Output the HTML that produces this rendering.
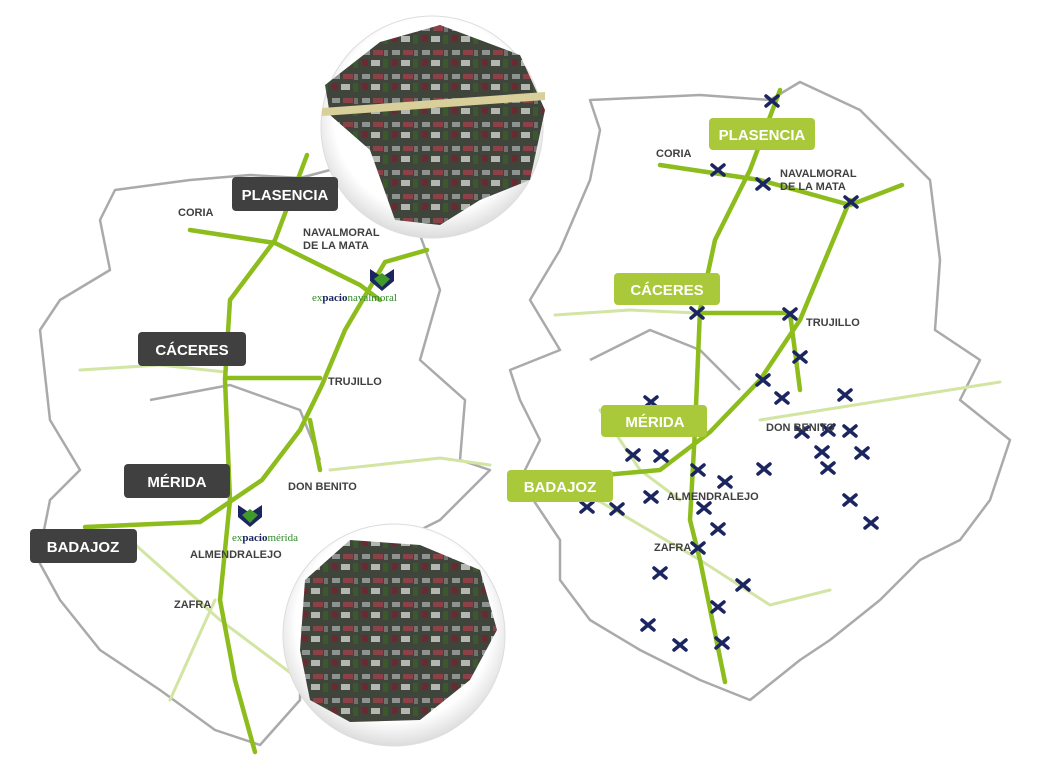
<!DOCTYPE html>
<html><head><meta charset="utf-8"><style>
body{margin:0;background:#fff;}
svg{display:block;font-family:"Liberation Sans",sans-serif;}
.lbl{font-size:11px;font-weight:bold;fill:#404040;}
.big{font-size:15px;font-weight:bold;fill:#fff;}
</style></head><body>
<svg width="1045" height="783" viewBox="0 0 1045 783" xmlns="http://www.w3.org/2000/svg">
<defs>
<pattern id="city" width="30" height="24" patternUnits="userSpaceOnUse">
<rect width="30" height="24" fill="#40453c"/>
<rect x="2" y="2" width="8" height="5" fill="#8e9290"/>
<rect x="13" y="2" width="10" height="5" fill="#8a4148"/>
<rect x="2" y="11" width="6" height="7" fill="#6b2a31"/>
<rect x="11" y="12" width="9" height="6" fill="#b4b6b0"/>
<rect x="23" y="11" width="5" height="9" fill="#3a5a2c"/>
<rect x="24" y="2" width="4" height="6" fill="#70736d"/>
</pattern>
<radialGradient id="cg" cx="50%" cy="45%" r="55%">
<stop offset="80%" stop-color="#fff"/><stop offset="100%" stop-color="#dcdcdc"/>
</radialGradient>
<g id="x"><path d="M-6,-5 L6,5 M6,-5 L-6,5" stroke="#1b2560" stroke-width="3.5" stroke-linecap="round"/></g>
</defs>
<g fill="none" stroke="#aaa" stroke-width="2.5" stroke-linejoin="round">
<path d="M115,190 L190,180 L250,175 L300,178 L330,170 L420,235 L440,290 L420,360 L465,400 L460,460 L490,470 L440,520 L400,540 L300,640 L300,700 L260,745 L215,730 L160,690 L100,650 L60,600 L38,560 L50,500 L80,470 L50,420 L40,330 L60,300 L110,270 L100,220 Z"/>
<path d="M590,100 L700,95 L770,100 L800,82 L860,110 L900,150 L930,180 L940,260 L935,330 L980,360 L960,400 L1010,440 L990,500 L960,540 L920,560 L880,600 L830,640 L800,660 L750,700 L700,680 L640,650 L590,620 L560,580 L560,540 L520,480 L540,440 L520,400 L510,370 L560,350 L530,300 L560,250 L590,180 L600,130 Z"/>
<path d="M150,400 L230,385 L300,410 L320,460" />
<path d="M590,360 L650,330 L700,350 L740,390"/>
</g>
<g fill="none" stroke="#d2e5a2" stroke-width="3" stroke-linecap="round">
<path d="M80,370 L160,365 L225,372"/>
<path d="M330,470 L440,458 L490,465"/>
<path d="M130,540 L220,620 L300,680"/>
<path d="M170,700 L215,600"/>
<path d="M555,315 L630,310 L697,313"/>
<path d="M760,420 L1000,382"/>
<path d="M580,490 L700,560 L770,605 L830,590"/>
<path d="M600,410 L640,470 L680,500"/>
</g>
<g fill="none" stroke="#8cbd1c" stroke-width="4.5" stroke-linecap="round" stroke-linejoin="round">
<path d="M307,155 L275,240 L230,300 L225,380 L230,500 L220,600 L235,680 L255,752"/>
<path d="M190,230 L275,243 L360,285 L380,300"/>
<path d="M427,250 L385,262 L345,330 L322,385 L300,430 L262,480 L200,522 L85,527"/>
<path d="M225,378 L320,378"/>
<path d="M310,420 L320,470"/>
<path d="M780,90 L750,170 L715,240 L700,310 L695,430 L690,520 L700,560 L725,682"/>
<path d="M660,165 L760,180 L850,205 L902,185"/>
<path d="M850,200 L800,320 L760,380 L710,432 L660,470 L548,480"/>
<path d="M697,313 L790,313 L800,390"/>
</g>
<g>
<use href="#x" x="772" y="101"/><use href="#x" x="718" y="170"/><use href="#x" x="763" y="184"/><use href="#x" x="851" y="202"/>
<use href="#x" x="697" y="313"/><use href="#x" x="790" y="314"/><use href="#x" x="800" y="357"/><use href="#x" x="763" y="380"/>
<use href="#x" x="782" y="398"/><use href="#x" x="845" y="395"/><use href="#x" x="802" y="432"/><use href="#x" x="828" y="430"/>
<use href="#x" x="850" y="431"/><use href="#x" x="822" y="452"/><use href="#x" x="862" y="453"/><use href="#x" x="828" y="468"/>
<use href="#x" x="764" y="469"/><use href="#x" x="698" y="470"/><use href="#x" x="633" y="455"/><use href="#x" x="661" y="456"/>
<use href="#x" x="725" y="482"/><use href="#x" x="651" y="497"/><use href="#x" x="587" y="507"/><use href="#x" x="617" y="509"/>
<use href="#x" x="704" y="508"/><use href="#x" x="718" y="529"/><use href="#x" x="850" y="500"/><use href="#x" x="871" y="523"/>
<use href="#x" x="698" y="548"/><use href="#x" x="660" y="573"/><use href="#x" x="743" y="585"/><use href="#x" x="718" y="607"/>
<use href="#x" x="648" y="625"/><use href="#x" x="680" y="645"/><use href="#x" x="722" y="643"/><use href="#x" x="651" y="402"/>
</g>
<circle cx="432" cy="127" r="111" fill="url(#cg)" stroke="#ddd"/>
<path d="M325,85 L380,42 L440,25 L520,55 L545,110 L530,180 L480,200 L440,225 L395,220 L370,150 L330,115 Z" fill="url(#city)"/>
<path d="M322,108 L545,92 L545,100 L322,116 Z" fill="#d8cf9a"/>
<circle cx="394" cy="635" r="111" fill="url(#cg)" stroke="#ddd"/>
<path d="M305,580 L350,540 L420,545 L480,570 L497,630 L470,680 L420,720 L350,722 L310,700 L300,650 Z" fill="url(#city)"/>
<g>
<rect x="232" y="177" width="106" height="34" rx="4" fill="#404040"/><text x="285" y="200" class="big" text-anchor="middle">PLASENCIA</text>
<rect x="138" y="332" width="108" height="34" rx="4" fill="#404040"/><text x="192" y="355" class="big" text-anchor="middle">CÁCERES</text>
<rect x="124" y="464" width="106" height="34" rx="4" fill="#404040"/><text x="177" y="487" class="big" text-anchor="middle">MÉRIDA</text>
<rect x="30" y="529" width="107" height="34" rx="4" fill="#404040"/><text x="83" y="552" class="big" text-anchor="middle">BADAJOZ</text>
<rect x="709" y="118" width="106" height="32" rx="4" fill="#a9c93a"/><text x="762" y="140" class="big" text-anchor="middle">PLASENCIA</text>
<rect x="614" y="273" width="106" height="32" rx="4" fill="#a9c93a"/><text x="667" y="295" class="big" text-anchor="middle">CÁCERES</text>
<rect x="601" y="405" width="106" height="32" rx="4" fill="#a9c93a"/><text x="655" y="427" class="big" text-anchor="middle">MÉRIDA</text>
<rect x="507" y="470" width="106" height="32" rx="4" fill="#a9c93a"/><text x="560" y="492" class="big" text-anchor="middle">BADAJOZ</text>
</g>
<g class="lbl">
<text x="178" y="216" class="lbl">CORIA</text>
<text x="303" y="236" class="lbl">NAVALMORAL</text><text x="303" y="249" class="lbl">DE LA MATA</text>
<text x="328" y="385" class="lbl">TRUJILLO</text>
<text x="288" y="490" class="lbl">DON BENITO</text>
<text x="190" y="558" class="lbl">ALMENDRALEJO</text>
<text x="174" y="608" class="lbl">ZAFRA</text>
<text x="656" y="157" class="lbl">CORIA</text>
<text x="780" y="177" class="lbl">NAVALMORAL</text><text x="780" y="190" class="lbl">DE LA MATA</text>
<text x="806" y="326" class="lbl">TRUJILLO</text>
<text x="766" y="431" class="lbl">DON BENITO</text>
<text x="667" y="500" class="lbl">ALMENDRALEJO</text>
<text x="654" y="551" class="lbl">ZAFRA</text>
</g>
<g transform="translate(382,277)">
<path d="M-12,-8 L0,0 L12,-8 L12,4 L0,14 L-12,4 Z" fill="#1b2560"/>
<path d="M-8,2 L0,-4 L8,2 L0,10 Z" fill="#3f9a2a"/>
</g>
<text x="312" y="301" font-size="11" fill="#2f8a2a" font-family="Liberation Serif,serif">ex<tspan fill="#1b2560" font-weight="bold">pacio</tspan>navalmoral</text>
<g transform="translate(250,513)">
<path d="M-12,-8 L0,0 L12,-8 L12,4 L0,14 L-12,4 Z" fill="#1b2560"/>
<path d="M-8,2 L0,-4 L8,2 L0,10 Z" fill="#3f9a2a"/>
</g>
<text x="232" y="541" font-size="11" fill="#2f8a2a" font-family="Liberation Serif,serif">ex<tspan fill="#1b2560" font-weight="bold">pacio</tspan>mérida</text>
</svg>
</body></html>
